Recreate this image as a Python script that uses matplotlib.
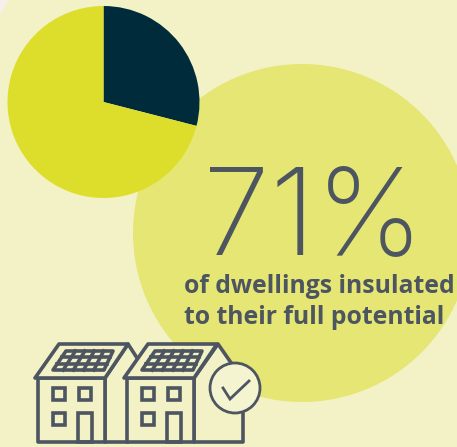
import matplotlib
matplotlib.use('Agg')
import matplotlib.pyplot as plt
from matplotlib.patches import Circle, Polygon, Rectangle
import numpy as np

# share of dwellings
insulated = 71
not_insulated = 29
caption = ['of dwellings insulated', 'to their full potential']

page_col = '#f5f0ee'
bg_col = '#f3f2c6'
blob_col = '#e5e673'
yellow = '#dddd2c'
navy = '#002b3b'
ink = '#4d5561'
lw_icon = 2.6

W, H = 457, 447
fig = plt.figure(figsize=(W / 100, H / 100), dpi=100, facecolor=bg_col)

# backdrop axes in pixel coordinates
ax = fig.add_axes([0, 0, 1, 1])
ax.set_xlim(0, W)
ax.set_ylim(H, 0)
ax.axis('off')
ax.add_patch(Polygon([(0, 0), (8, 0), (0, 15)], fc=page_col, ec='none'))
ax.add_patch(Circle((302, 233), 169, fc=blob_col, ec='none'))

# pie
cx, cy, r = 103.5, 102, 96
ax_pie = fig.add_axes([(cx - r) / W, 1 - (cy + r) / H, 2 * r / W, 2 * r / H])
ax_pie.pie([not_insulated, insulated], colors=[navy, yellow], startangle=90,
           counterclock=False, radius=1)
ax_pie.set_xlim(-1, 1)
ax_pie.set_ylim(-1, 1)

# text and icon on top
ax2 = fig.add_axes([0, 0, 1, 1])
ax2.set_xlim(0, W)
ax2.set_ylim(H, 0)
ax2.axis('off')
ax2.patch.set_alpha(0)

ax2.text(203, 254, f'{insulated}%', fontsize=87, family='Inter', weight='light',
         color=ink, ha='left', va='baseline')
ax2.text(184, 293, caption[0], fontsize=17.8, family='Open Sans', weight='bold',
         color=ink, ha='left', va='baseline')
ax2.text(184, 323.5, caption[1], fontsize=17.8, family='Open Sans', weight='bold',
         color=ink, ha='left', va='baseline')


def outline(pts, fill='none', closed=True):
    ax2.add_patch(Polygon(pts, closed=closed, fc=fill, ec=ink, lw=lw_icon, joinstyle='round'))


def house(dx):
    # roof, walls, windows, door and solar panel of one house
    outline([(38 + dx, 378), (38 + dx, 442), (105 + dx, 442), (105 + dx, 378)], fill=bg_col)
    outline([(35 + dx, 378), (59 + dx, 344), (128 + dx, 344), (105 + dx, 378)], fill=bg_col)
    for wx, wy in [(53, 388), (79, 388), (53, 413)]:
        ax2.add_patch(Rectangle((wx + dx, wy), 12, 12, fc='none', ec=ink, lw=lw_icon))
    ax2.add_patch(Rectangle((78 + dx, 413), 14, 29, fc='none', ec=ink, lw=lw_icon))
    # panel frame and cells
    tl, tr, br, bl = np.array([(66, 351), (113, 351), (104, 370), (53, 370)], dtype=float)
    tl[0] += dx; tr[0] += dx; br[0] += dx; bl[0] += dx
    outline([tl, tr, br, bl])
    for t in (1 / 3, 2 / 3):
        a, b = tl + (bl - tl) * t, tr + (br - tr) * t
        ax2.plot([a[0], b[0]], [a[1], b[1]], color=ink, lw=lw_icon)
    for t in (0.2, 0.4, 0.6, 0.8):
        a, b = tl + (tr - tl) * t, bl + (br - bl) * t
        ax2.plot([a[0], b[0]], [a[1], b[1]], color=ink, lw=lw_icon)


# side walls behind the house fronts
outline([(105, 378), (128, 344), (139, 361), (128, 378), (128, 442), (105, 442)], fill=bg_col)
outline([(194, 378), (218, 344), (243, 380), (243, 442), (194, 442)], fill=bg_col)
house(0)
house(89)

# tick badge
ax2.add_patch(Circle((235, 388), 25, fc='#f4f4d0', ec=ink, lw=2.0))
ax2.plot([223, 230, 249], [388, 399, 381], color=ink, lw=2.0, solid_joinstyle='miter')

fig.savefig('out.png', dpi=100, facecolor=bg_col)
